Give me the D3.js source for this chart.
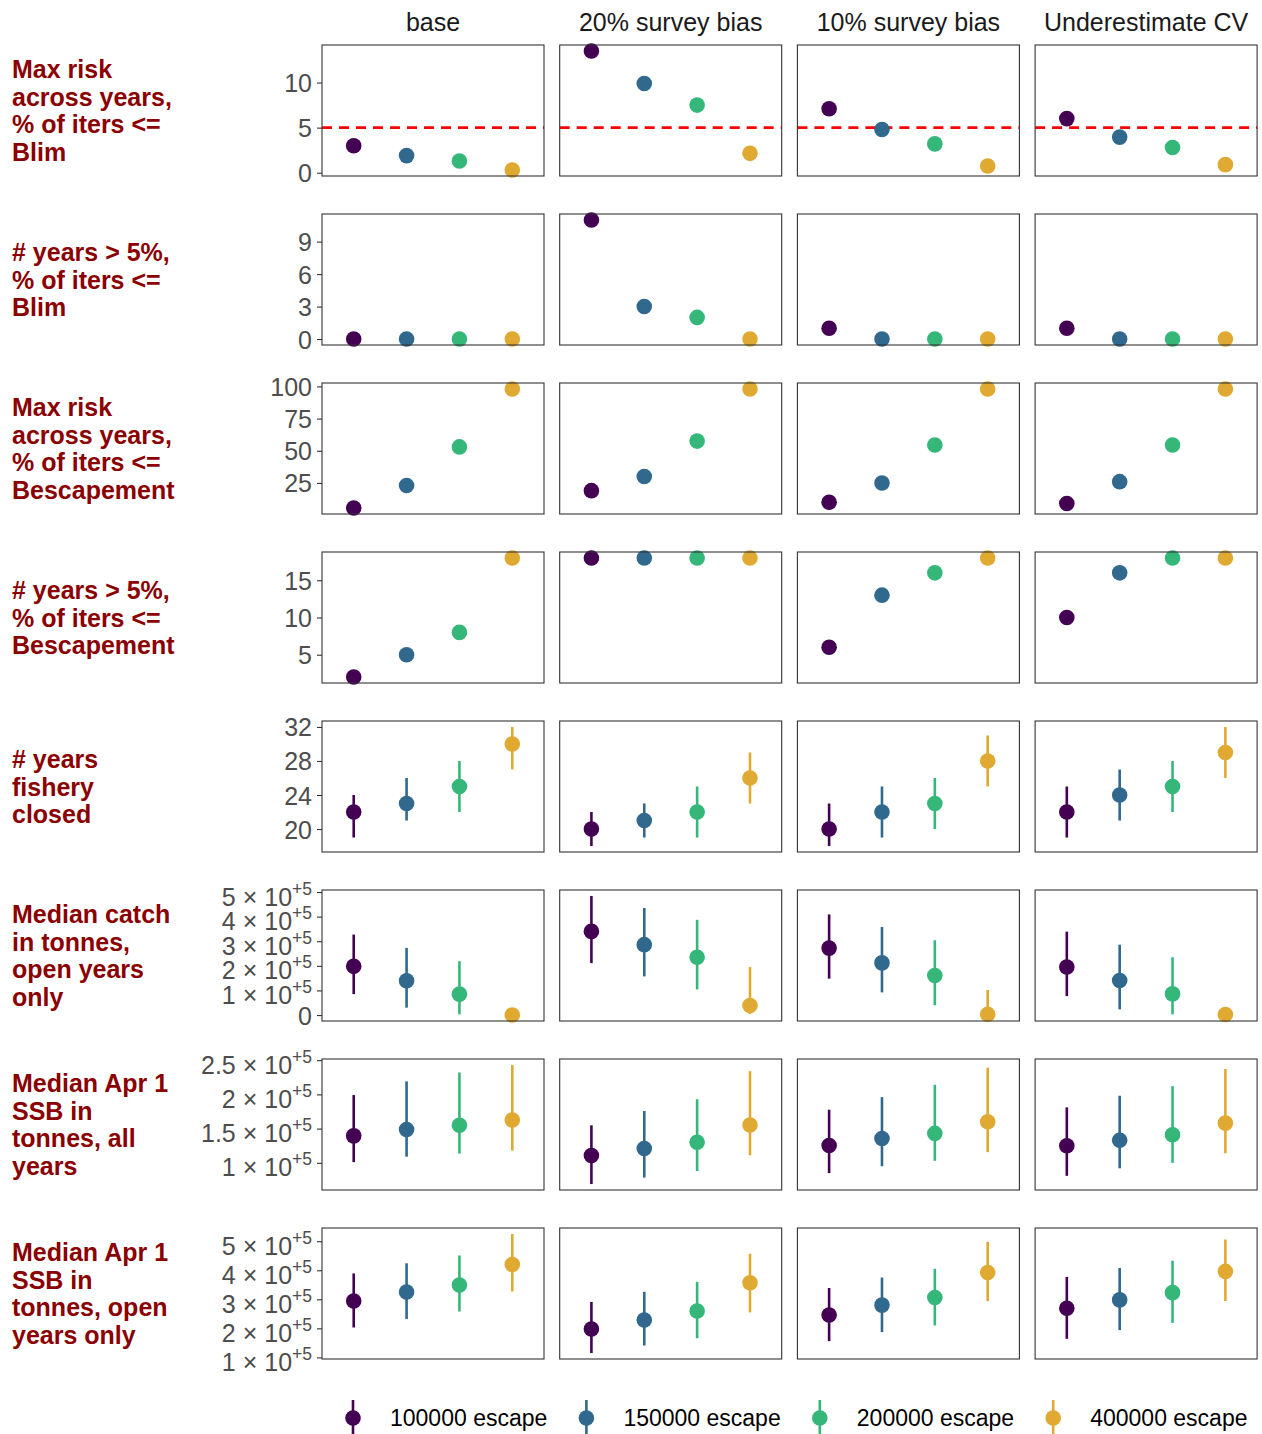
<!DOCTYPE html>
<html>
<head>
<meta charset="utf-8">
<style>
  body { margin: 0; background: #fff; }
  svg text { font-family: "Liberation Sans", Arial, sans-serif; }
  .strip { font-size: 25px; fill: #1a1a1a; text-anchor: middle; }
  .rowlab { font-size: 25px; font-weight: bold; fill: #8b0000; }
  .axis text { font-size: 25px; fill: #4d4d4d; }
  .axis line { stroke: #333; stroke-width: 1.1; }
  .axis path { display: none; }
  .legend text { font-size: 23px; fill: #000; }
</style>
</head>
<body>
<svg id="chart" width="1262" height="1434"></svg>
<script src="https://d3js.org/d3.v7.min.js"></script>
<script>
// facets
var scenarios = ["base", "20% survey bias", "10% survey bias", "Underestimate CV"];
var escapes = ["100000 escape", "150000 escape", "200000 escape", "400000 escape"];
var colors = ["#440154", "#31688e", "#35b779", "#e0aa32"];

var rowLabels = [
  ["Max risk", "across years,", "% of iters <=", "Blim"],
  ["# years > 5%,", "% of iters <=", "Blim"],
  ["Max risk", "across years,", "% of iters <=", "Bescapement"],
  ["# years > 5%,", "% of iters <=", "Bescapement"],
  ["# years", "fishery", "closed"],
  ["Median catch", "in tonnes,", "open years", "only"],
  ["Median Apr 1", "SSB in", "tonnes, all", "years"],
  ["Median Apr 1", "SSB in", "tonnes, open", "years only"]
];

// values: one array per scenario, in escape order
var maxRiskBlim = [[3.0, 1.9, 1.3, 0.3], [13.5, 9.9, 7.5, 2.15], [7.1, 4.8, 3.2, 0.75], [6.0, 3.95, 2.8, 0.9]];
var yearsBlim = [[0, 0, 0, 0], [11, 3, 2, 0], [1, 0, 0, 0], [1, 0, 0, 0]];
var maxRiskBesc = [[5.5, 23, 53, 98], [19, 30, 57.5, 98], [10, 25, 54.5, 98], [9, 26, 54.5, 98]];
var yearsBesc = [[2, 5, 8, 18], [18, 18, 18, 18], [6, 13, 16, 18], [10, 16, 18, 18]];

var closedMed = [[22, 23, 25, 30], [20, 21, 22, 26], [20, 22, 23, 28], [22, 24, 25, 29]];
var closedLo = [[19, 21, 22, 27], [18, 19, 19, 23], [18, 19, 20, 25], [19, 21, 22, 26]];
var closedHi = [[24, 26, 28, 32], [22, 23, 25, 29], [23, 25, 26, 31], [25, 27, 28, 32]];

var catchMed = [[198000, 139000, 85000, 0], [340000, 286000, 235000, 39000], [272000, 212000, 161000, 3000], [195000, 140000, 86000, 2000]];
var catchLo = [[85000, 30000, 3000, 0], [211000, 157000, 104000, 4000], [148000, 92000, 40000, 0], [77000, 23000, 3000, 0]];
var catchHi = [[327000, 273000, 219000, 0], [484000, 435000, 387000, 195000], [409000, 358000, 304000, 102000], [339000, 286000, 235000, 30000]];

var ssbAllMed = [[139400, 148600, 155000, 162600], [110800, 121000, 130000, 155300], [125300, 135500, 143000, 160000], [125000, 133000, 141000, 158000]];
var ssbAllLo = [[101000, 109000, 113600, 117600], [69000, 78500, 88000, 111000], [85000, 95000, 103000, 115600], [81000, 92000, 100000, 114000]];
var ssbAllHi = [[199000, 219000, 232000, 243000], [154800, 175700, 193000, 234000], [177600, 196000, 214000, 239000], [181000, 198000, 212000, 237000]];

var ssbOpenMed = [[294000, 325000, 349000, 420000], [198000, 229000, 260000, 357000], [246000, 280000, 306000, 392000], [269000, 298000, 323000, 396000]];
var ssbOpenLo = [[203000, 232000, 258000, 327000], [115000, 141000, 166000, 255000], [156000, 187000, 210000, 294000], [164000, 194000, 219000, 294000]];
var ssbOpenHi = [[389000, 424000, 451000, 525000], [291000, 326000, 360000, 457000], [339000, 375000, 405000, 498000], [377000, 408000, 433000, 506000]];

var tickSets = [
  [0, 5, 10], [0, 3, 6, 9], [25, 50, 75, 100], [5, 10, 15], [20, 24, 28, 32],
  [0, 1e5, 2e5, 3e5, 4e5, 5e5], [1e5, 1.5e5, 2e5, 2.5e5], [1e5, 2e5, 3e5, 4e5, 5e5]
];
var refLine = 5; // dashed line in first row

var rows = [
  {med: maxRiskBlim, ref: refLine},
  {med: yearsBlim},
  {med: maxRiskBesc},
  {med: yearsBesc},
  {med: closedMed, lo: closedLo, hi: closedHi},
  {med: catchMed, lo: catchLo, hi: catchHi, sci: true},
  {med: ssbAllMed, lo: ssbAllLo, hi: ssbAllHi, sci: true},
  {med: ssbOpenMed, lo: ssbOpenLo, hi: ssbOpenHi, sci: true}
];

var panelW = 222, panelH = 131;
var left0 = 322, colStep = 237.7;
var top0 = 45, rowStep = 169;

var svg = d3.select('#chart');

var x = d3.scalePoint().domain(escapes).range([0, panelW]).padding(0.6);

// strip labels
svg.selectAll('.strip').data(scenarios).enter().append('text')
  .attr('class', 'strip')
  .attr('x', function(d, j) { return left0 + j * colStep + panelW / 2; })
  .attr('y', 31)
  .text(function(d) { return d; });

rows.forEach(function(row, i) {
  var top = top0 + i * rowStep;

  // free y scale per row, 5% expansion like ggplot
  var all = d3.merge(row.med);
  if (row.lo) all = all.concat(d3.merge(row.lo), d3.merge(row.hi));
  var mn = d3.min(all), mx = d3.max(all), pad = (mx - mn) * 0.05;
  var y = d3.scaleLinear().domain([mn - pad, mx + pad]).range([panelH, 0]);

  // row label
  var lines = rowLabels[i];
  var lab = svg.append('text').attr('class', 'rowlab');
  lines.forEach(function(l, k) {
    lab.append('tspan').attr('x', 12)
      .attr('y', top + panelH / 2 + 9 + (k - (lines.length - 1) / 2) * 27.4)
      .text(l);
  });

  scenarios.forEach(function(sc, j) {
    var g = svg.append('g').attr('transform', 'translate(' + (left0 + j * colStep) + ',' + top + ')');

    if (j === 0) {
      var ax = g.append('g').attr('class', 'axis')
        .call(d3.axisLeft(y).tickValues(tickSets[i]).tickSize(5).tickPadding(5));
      ax.selectAll('.tick text').attr('dy', '0.36em');
      if (row.sci) {
        ax.selectAll('.tick text').each(function(v) {
          var t = d3.select(this);
          t.text(null);
          if (v === 0) { t.text('0'); return; }
          t.attr('dy', null).attr('y', 13);
          t.append('tspan').text((v / 1e5) + ' \u00d7 10');
          t.append('tspan').attr('dy', -11).style('font-size', '17.5px').text('+5');
        });
      }
    }

    if (row.ref !== undefined) {
      g.append('line')
        .attr('x1', 0).attr('x2', panelW)
        .attr('y1', y(row.ref)).attr('y2', y(row.ref))
        .attr('stroke', '#ff0000').attr('stroke-width', 2.6)
        .attr('stroke-dasharray', '10,7');
    }

    if (row.lo) {
      g.selectAll('.bar').data(escapes).enter().append('line')
        .attr('x1', function(d) { return x(d); })
        .attr('x2', function(d) { return x(d); })
        .attr('y1', function(d, k) { return y(row.lo[j][k]); })
        .attr('y2', function(d, k) { return y(row.hi[j][k]); })
        .attr('stroke', function(d, k) { return colors[k]; })
        .attr('stroke-width', 2.6);
    }

    g.selectAll('.pt').data(escapes).enter().append('circle')
      .attr('cx', function(d) { return x(d); })
      .attr('cy', function(d, k) { return y(row.med[j][k]); })
      .attr('r', 7.8)
      .attr('fill', function(d, k) { return colors[k]; });

    g.append('rect')
      .attr('width', panelW).attr('height', panelH)
      .attr('fill', 'none').attr('stroke', '#333').attr('stroke-width', 1.1);
  });
});

// legend
var leg = svg.append('g').attr('class', 'legend');
escapes.forEach(function(e, k) {
  var gx = 353 + k * 233.4;
  leg.append('line').attr('x1', gx).attr('x2', gx).attr('y1', 1400).attr('y2', 1434)
    .attr('stroke', colors[k]).attr('stroke-width', 2.6);
  leg.append('circle').attr('cx', gx).attr('cy', 1418).attr('r', 7.8).attr('fill', colors[k]);
  leg.append('text').attr('x', gx + 37).attr('y', 1426).text(e);
});
</script>
</body>
</html>
